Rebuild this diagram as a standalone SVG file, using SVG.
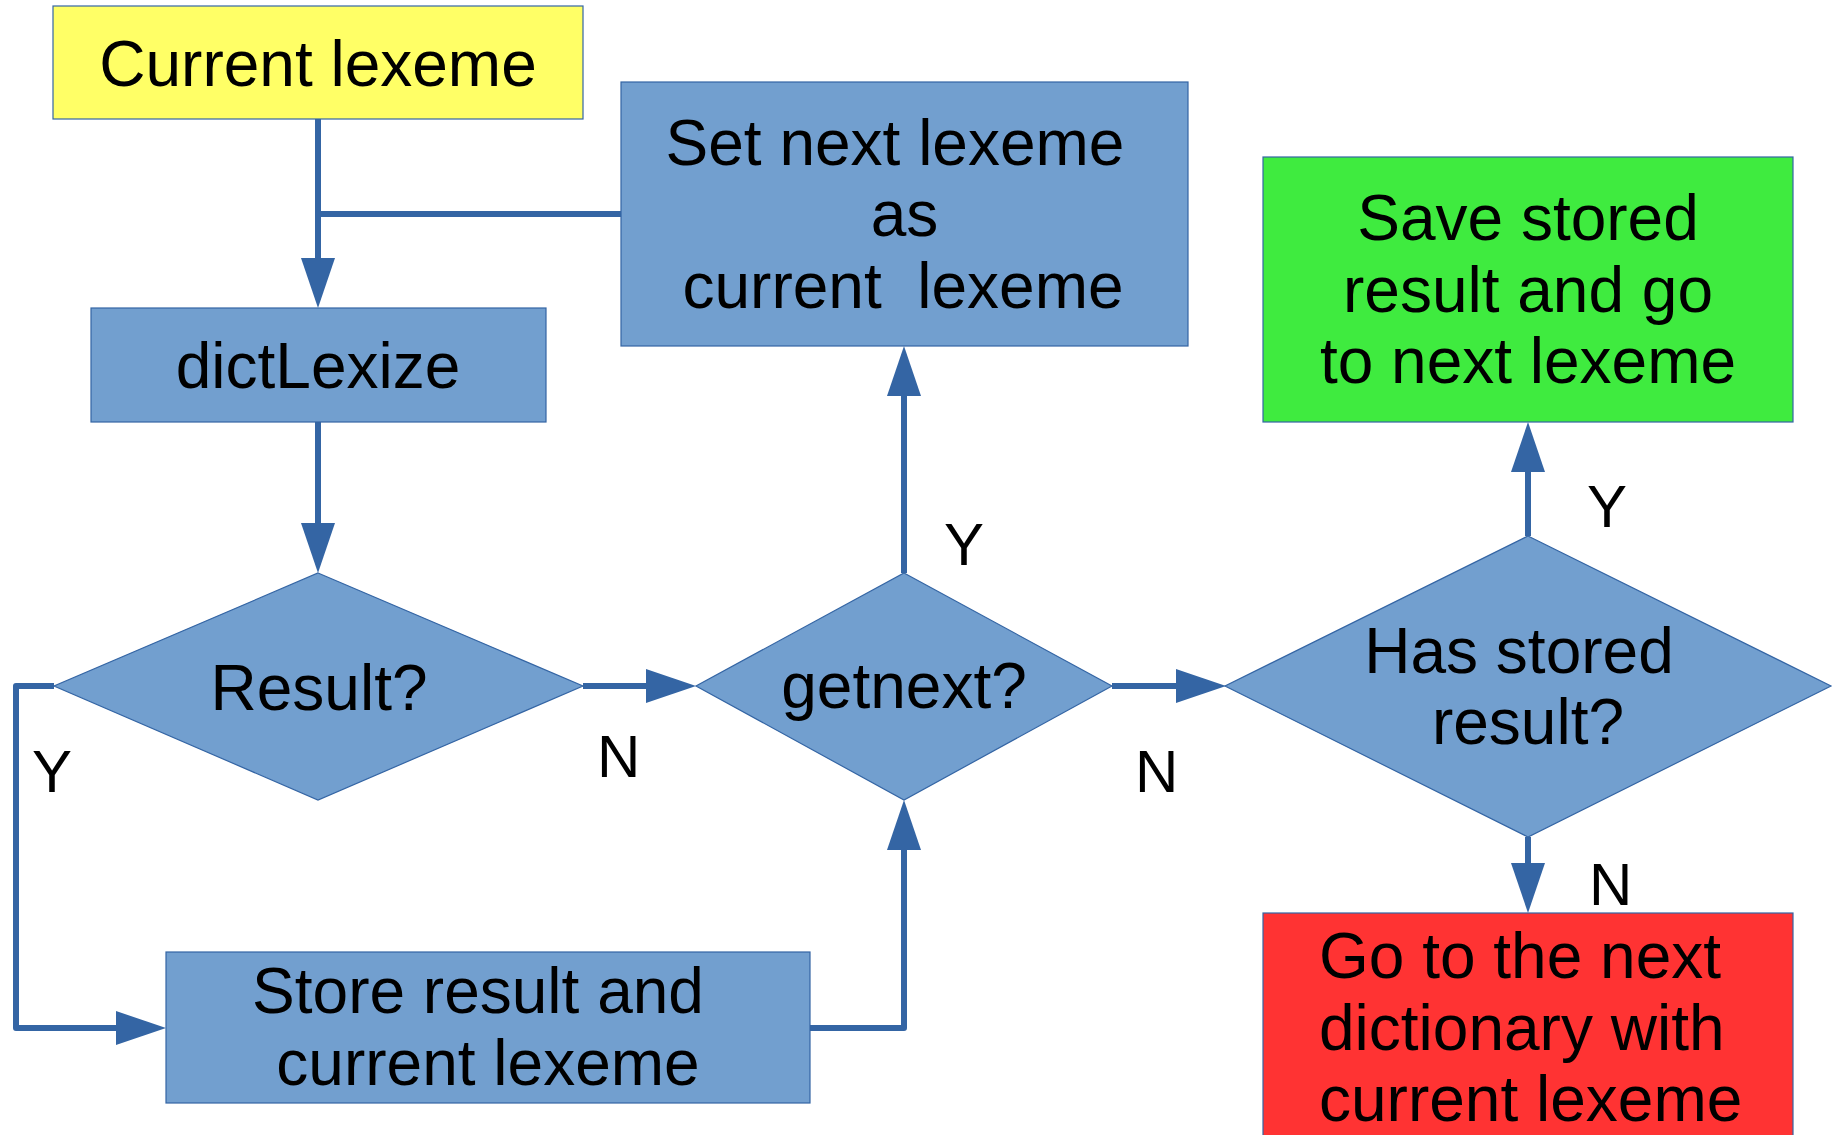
<svg xmlns="http://www.w3.org/2000/svg" width="1842" height="1135" viewBox="0 0 1842 1135">
<style>
.box{stroke:#3465a4;stroke-width:1.2}
.blue{fill:#729fcf}
.t{font-family:"Liberation Sans",Arial,sans-serif;font-size:64px;fill:#000;text-anchor:middle}
.lbl{font-family:"Liberation Sans",Arial,sans-serif;font-size:60px;fill:#000}
.c{fill:none;stroke:#3465a4;stroke-width:6;stroke-linejoin:round}
</style>
<defs>
<marker id="ah" markerUnits="userSpaceOnUse" markerWidth="50" markerHeight="34" refX="0" refY="17" orient="auto" overflow="visible">
<path d="M0,0 L50,17 L0,34 z" fill="#3465a4"/>
</marker>
</defs>
<rect width="1842" height="1135" fill="#fff"/>
<g id="connectors">
<path class="c" d="M318,119 V258" marker-end="url(#ah)"/>
<path class="c" d="M621,214 H318"/>
<path class="c" d="M318,422 V523" marker-end="url(#ah)"/>
<path class="c" d="M583,686 H646" marker-end="url(#ah)"/>
<path class="c" d="M54,686 H16 V1028 H116" marker-end="url(#ah)"/>
<path class="c" d="M810,1028 H904 V850" marker-end="url(#ah)"/>
<path class="c" d="M904,573 V396" marker-end="url(#ah)"/>
<path class="c" d="M1112,686 H1176" marker-end="url(#ah)"/>
<path class="c" d="M1528,536 V472" marker-end="url(#ah)"/>
<path class="c" d="M1528,837 V863" marker-end="url(#ah)"/>
</g>
<g id="current-lexeme">
<rect class="box" x="53" y="6" width="530" height="113" fill="#ffff66"/>
<text class="t" x="318" y="86">Current lexeme</text>
</g>
<g id="set-next">
<rect class="box blue" x="621" y="82" width="567" height="264"/>
<text class="t" x="895" y="165">Set next lexeme</text>
<text class="t" x="904.5" y="236">as</text>
<text class="t" x="903" y="308" xml:space="preserve">current  lexeme</text>
</g>
<g id="save-stored">
<rect class="box" x="1263" y="157" width="530" height="265" fill="#3feb3f"/>
<text class="t" x="1528" y="240">Save stored</text>
<text class="t" x="1528" y="312">result and go</text>
<text class="t" x="1528" y="383">to next lexeme</text>
</g>
<g id="dictlexize">
<rect class="box blue" x="91" y="308" width="455" height="114"/>
<text class="t" x="318" y="388">dictLexize</text>
</g>
<g id="result">
<polygon class="box blue" points="318,573 583,686 318,800 54,686"/>
<text class="t" x="319" y="710">Result?</text>
</g>
<g id="getnext">
<polygon class="box blue" points="904,573 1112,686 904,800 696,686"/>
<text class="t" x="904" y="708">getnext?</text>
</g>
<g id="has-stored">
<polygon class="box blue" points="1528,536 1831,686 1528,837 1225,686"/>
<text class="t" x="1519" y="673">Has stored</text>
<text class="t" x="1528" y="744">result?</text>
</g>
<g id="store-result">
<rect class="box blue" x="166" y="952" width="644" height="151"/>
<text class="t" x="478" y="1013">Store result and</text>
<text class="t" x="488" y="1085">current lexeme</text>
</g>
<g id="go-next-dict">
<rect class="box" x="1263" y="913" width="530" height="240" fill="#ff3333"/>
<text class="t" x="1319" y="978" style="text-anchor:start">Go to the next</text>
<text class="t" x="1319" y="1050" style="text-anchor:start">dictionary with</text>
<text class="t" x="1319" y="1121" style="text-anchor:start">current lexeme</text>
</g>
<g id="labels">
<text class="lbl" x="32" y="792">Y</text>
<text class="lbl" x="597" y="777">N</text>
<text class="lbl" x="944" y="565">Y</text>
<text class="lbl" x="1135" y="792">N</text>
<text class="lbl" x="1587" y="527">Y</text>
<text class="lbl" x="1589" y="905">N</text>
</g>
</svg>
